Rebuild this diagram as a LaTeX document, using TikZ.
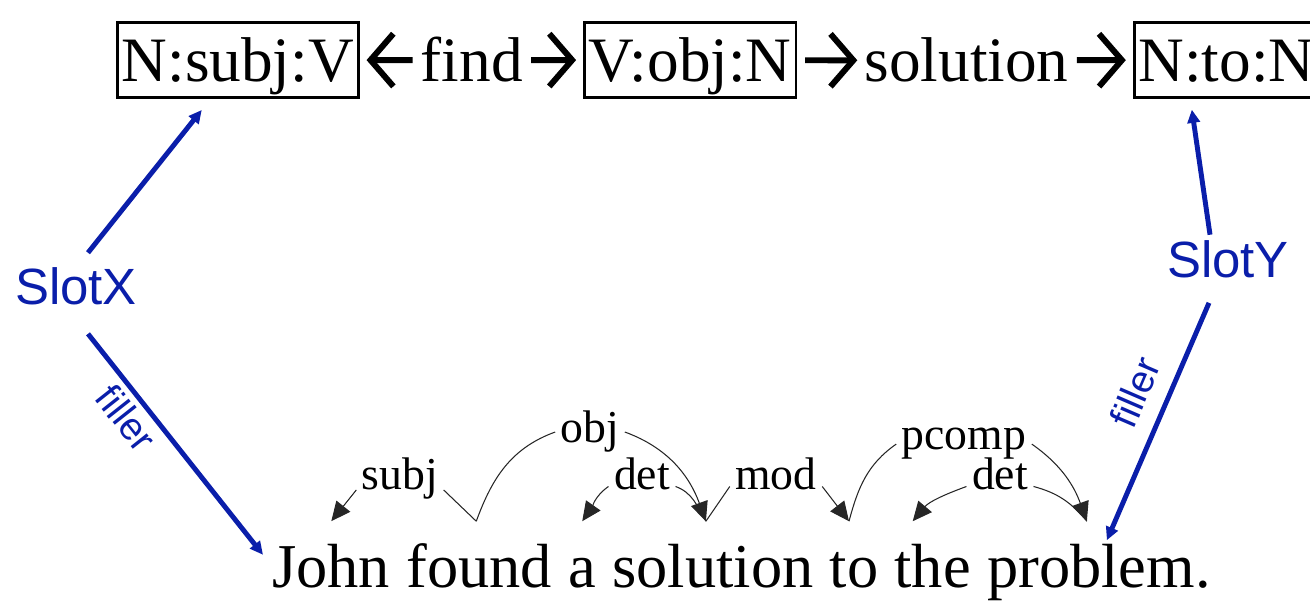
\documentclass[tikz,border=0pt]{standalone}
\usepackage{fontspec}
\setmainfont{Liberation Serif}
\newfontfamily\slotfont{Liberation Sans}
\usetikzlibrary{arrows.meta,positioning,calc}
\definecolor{slotblue}{RGB}{10,30,170}
\newcommand{\boxstrut}{\rule[-7.5pt]{0pt}{40pt}}
\tikzset{
  relword/.style={font=\fontsize{36}{40}\selectfont, inner sep=0pt},
  relbox/.style={relword, draw, line width=1.6pt, inner xsep=2.5pt,
                 inner ysep=1.2pt, execute at begin node=\boxstrut},
  relarr/.style={-{Straight Barb[length=13pt,width=30pt]}, line width=3.4pt,
                 shorten <=4.5pt, shorten >=4pt},
  sword/.style={font=\fontsize{35.5}{40}\selectfont, inner sep=0pt,
                text height=23pt, text depth=0pt, outer ysep=15pt},
  deplbl/.style={font=\fontsize{26}{30}\selectfont, inner xsep=3pt,
                 inner ysep=1pt, anchor=base},
  depline/.style={line width=0.6pt, black!85},
  deparr/.style={depline, -{Triangle[length=11pt,width=10pt]}},
  slot/.style={font=\slotfont\fontsize{29}{32}\selectfont, text=slotblue,
               inner sep=0pt},
  slotarr/.style={-{Triangle[length=7.5pt,width=7pt]}, line width=2.8pt,
                  draw=slotblue},
  fillerlbl/.style={font=\slotfont\fontsize{22}{26}\selectfont,
                    text=slotblue, sloped, inner sep=3pt},
}
\begin{document}
\begin{tikzpicture}[x=0.02cm, y=0.02cm]
  \path[use as bounding box] (0,0) rectangle (1310,601);
  \clip (0,0) rectangle (1310,601);

  % dependency path
  \node[relbox, anchor=base west] (subjbox) at (116,519) {N:subj:V};
  \node[relword, base right=1.22cm of subjbox] (find) {find};
  \node[relbox, base right=1.20cm of find] (objbox) {V:obj:N};
  \node[relword, base right=1.34cm of objbox] (sol) {solution};
  \node[relbox, base right=1.28cm of sol] (tobox) {N:to:N};
  \draw[relarr] (find) -- (subjbox);
  \draw[relarr] (find) -- (objbox);
  \draw[relarr] (objbox) -- (sol);
  \draw[relarr] (sol) -- (tobox);

  % sentence
  \node[sword, anchor=base west] (john) at (272,13) {John};
  \node[sword, base right=8.9pt of john] (found) {found};
  \node[sword, base right=8.9pt of found] (wa) {a};
  \node[sword, base right=8.9pt of wa] (soln) {solution};
  \node[sword, base right=8.9pt of soln] (wto) {to};
  \node[sword, base right=8.9pt of wto] (wthe) {the};
  \node[sword, base right=8.9pt of wthe] (prob) {problem.};

  % parse labels
  \node[deplbl] (subjl) at (400,111) {subj};
  \node[deplbl] (objl) at (590,158) {obj};
  \node[deplbl] (detl) at (642,111) {det};
  \node[deplbl] (modl) at (776,111) {mod};
  \node[deplbl] (pcompl) at (964,151) {pcomp};
  \node[deplbl] (detr) at (1000,111) {det};

  \draw[deparr] (subjl.base west) -- (john.north);
  \draw[depline] ([xshift=-0.06cm]found.north) -- (subjl.base east);
  \draw[depline] ([xshift=-0.06cm]found.north) to[out=70,in=200] (objl.west);
  \draw[deparr] (objl.east) to[out=-20,in=110] ([xshift=-0.14cm]soln.north);
  \draw[deparr] ([yshift=2pt]detl.base west) to[out=215,in=55] (wa.north);
  \draw[depline] ([yshift=2pt]detl.base east) to[out=-20,in=120] ([xshift=-0.14cm]soln.north);
  \draw[depline] ([yshift=2pt]modl.base west) -- ([xshift=-0.14cm]soln.north);
  \draw[deparr] ([yshift=2pt]modl.base east) -- ([xshift=-0.1cm]wto.north);
  \draw[depline] ([xshift=-0.1cm]wto.north) to[out=75,in=215] (pcompl.west);
  \draw[deparr] (pcompl.east) to[out=-35,in=110] ([xshift=-0.24cm]prob.north);
  \draw[deparr] ([yshift=2pt]detr.base west) to[out=200,in=50] ([xshift=-0.4cm]wthe.north);
  \draw[depline] ([yshift=2pt]detr.base east) to[out=-15,in=130] ([xshift=-0.24cm]prob.north);

  % slots
  \node[slot, anchor=base] (slotx) at (76,296) {SlotX};
  \node[slot, anchor=base] (sloty) at (1228,323) {SlotY};
  \draw[slotarr] ($(slotx.north)+(12,15)$) -- ($(subjbox.south)+(-36,-11)$);
  \draw[slotarr] ($(slotx.south)+(12,-28)$)
        -- node[fillerlbl, below, pos=0.32] (fillx) {filler} ($(john.west)+(-9,13)$);
  \draw[slotarr] ($(sloty.north)+(-18,6)$) -- ($(tobox.south west)+(59,-11)$);
  \draw[slotarr] ($(sloty.south)+(-19,-24)$)
        -- node[fillerlbl, above=6pt, pos=0.43] (filly) {filler} ($(prob.north)+(8,-19)$);
\end{tikzpicture}
\end{document}
